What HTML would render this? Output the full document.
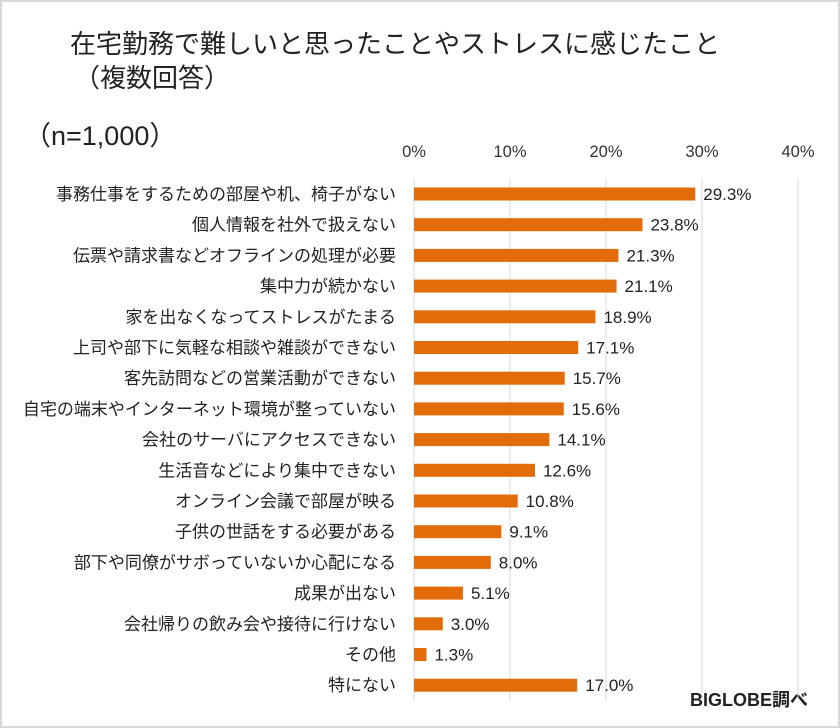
<!DOCTYPE html>
<html><head><meta charset="utf-8"><style>
body{margin:0;background:#fff;}
#wrap{position:relative;width:836px;height:724px;border:2px solid #d9d9d9;background:#fff;overflow:hidden;font-family:"Liberation Sans","Noto Sans CJK JP",sans-serif;color:#222;}
.t{position:absolute;white-space:nowrap;}
</style></head><body>
<div id="wrap">
<div class="t" style="left:68px;top:22px;font-size:26px;">在宅勤務で難しいと思ったことやストレスに感じたこと</div>
<div class="t" style="left:72px;top:56px;font-size:26px;">（複数回答）</div>
<div class="t" style="left:22px;top:112px;font-size:27px;">（n=1,000）</div>
<div class="t" style="left:688px;top:684px;font-size:18px;font-weight:bold;">BIGLOBE調べ</div>
<svg id="chart" width="836" height="724" style="position:absolute;left:0;top:0"></svg>
</div>
<script>
const categories=["事務仕事をするための部屋や机、椅子がない","個人情報を社外で扱えない","伝票や請求書などオフラインの処理が必要","集中力が続かない","家を出なくなってストレスがたまる","上司や部下に気軽な相談や雑談ができない","客先訪問などの営業活動ができない","自宅の端末やインターネット環境が整っていない","会社のサーバにアクセスできない","生活音などにより集中できない","オンライン会議で部屋が映る","子供の世話をする必要がある","部下や同僚がサボっていないか心配になる","成果が出ない","会社帰りの飲み会や接待に行けない","その他","特にない"];
const values=[29.3,23.8,21.3,21.1,18.9,17.1,15.7,15.6,14.1,12.6,10.8,9.1,8.0,5.1,3.0,1.3,17.0];
const ticks=[0,10,20,30,40];
const tickLabels=["0%","10%","20%","30%","40%"];
const svg=document.getElementById('chart');
const NS='http://www.w3.org/2000/svg';
const x=v=>412+v*9.6;
const y=i=>192+i*30.7;
function mk(t,a){const e=document.createElementNS(NS,t);for(const k in a)e.setAttribute(k,a[k]);svg.appendChild(e);return e;}
ticks.forEach((t,i)=>{
 const g=mk('line',{x1:x(t),x2:x(t),y1:176,y2:698,stroke:'#d9d9d9','stroke-width':1});
 
 
 const l=mk('text',{x:x(t),y:155,'text-anchor':'middle','font-size':16.5,fill:'#333'});
 l.textContent=tickLabels[i];
 
 
});
categories.forEach((c,i)=>{
 const b=mk('rect',{x:x(0),y:y(i)-6.5,width:x(values[i])-x(0),height:13,fill:'#e36c0a'});
 
 
 const l=mk('text',{x:394,y:y(i)+6,'text-anchor':'end','font-size':17,fill:'#222'});
 l.textContent=c;
 
 
 const v=mk('text',{x:x(values[i])+8,y:y(i)+6,'font-size':17,fill:'#222'});
 v.textContent=values[i].toFixed(1)+'%';
 
 
});
</script>
</body></html>
